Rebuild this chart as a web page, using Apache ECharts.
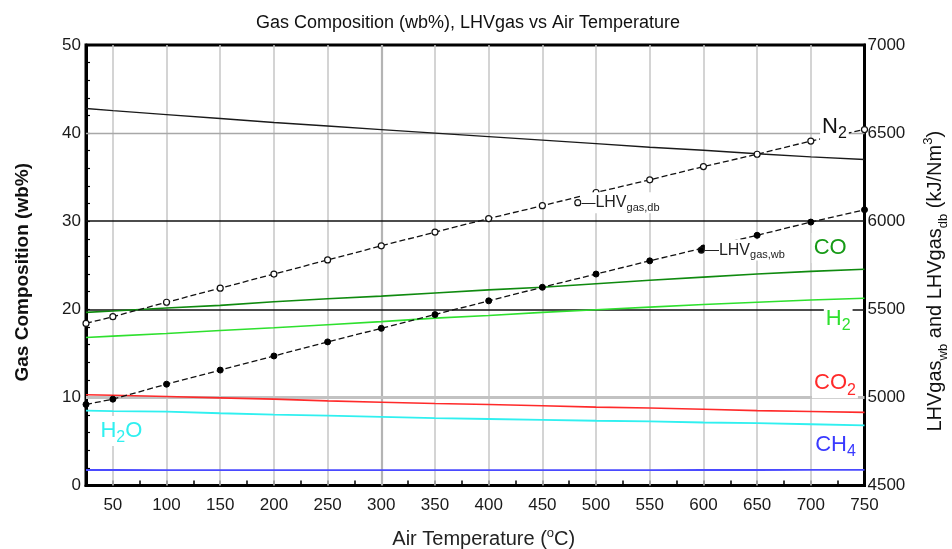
<!DOCTYPE html>
<html>
<head>
<meta charset="utf-8">
<script src="https://cdn.jsdelivr.net/npm/echarts@6/dist/echarts.min.js"></script>
<style>
  html, body { margin: 0; padding: 0; background: #fff; }
  #chart { width: 952px; height: 549px; }
</style>
</head>
<body>
<div id="chart"></div>
<script>
// Air temperature (°C) at which the gasifier was evaluated
const temps = [25, 50, 100, 150, 200, 250, 300, 350, 400, 450, 500, 550, 600, 650, 700, 750];

// Gas composition, wet basis (%)
const n2  = [42.8, 42.55, 42.1, 41.65, 41.2, 40.8, 40.4, 40.0, 39.6, 39.2, 38.8, 38.4, 38.05, 37.65, 37.3, 37.0];
const co  = [19.65, 19.8, 20.15, 20.45, 20.85, 21.2, 21.5, 21.85, 22.2, 22.5, 22.9, 23.3, 23.65, 24.0, 24.3, 24.55];
const h2  = [16.8, 16.95, 17.25, 17.6, 17.9, 18.25, 18.6, 19.0, 19.3, 19.65, 19.95, 20.25, 20.55, 20.8, 21.05, 21.25];
const co2 = [10.3, 10.25, 10.1, 9.95, 9.8, 9.6, 9.45, 9.3, 9.2, 9.05, 8.9, 8.8, 8.65, 8.5, 8.4, 8.3];
const h2o = [8.5, 8.45, 8.38, 8.2, 8.05, 7.92, 7.8, 7.65, 7.55, 7.45, 7.35, 7.28, 7.15, 7.07, 6.95, 6.82];
const ch4 = [1.76, 1.76, 1.75, 1.75, 1.75, 1.74, 1.74, 1.74, 1.74, 1.75, 1.75, 1.75, 1.76, 1.76, 1.77, 1.77];

// Lower heating value of the gas (kJ/Nm3), dry and wet basis
const lhvDb = [5420, 5458, 5540, 5620, 5700, 5780, 5860, 5938, 6015, 6088, 6163, 6235, 6310, 6380, 6455, 6520];
const lhvWb = [4960, 4990, 5075, 5155, 5235, 5315, 5392, 5470, 5548, 5625, 5700, 5775, 5848, 5920, 5995, 6065];

// Axis tick labels and reference lines
const xTickLabels = [50, 100, 150, 200, 250, 300, 350, 400, 450, 500, 550, 600, 650, 700, 750];
const xGridLines  = [50, 100, 150, 200, 250, 300, 350, 400, 450, 500, 550, 600, 650, 700];
const leftTicks   = [0, 10, 20, 30, 40, 50];
const rightTicks  = [4500, 5000, 5500, 6000, 6500, 7000];

// Where each curve name sits: [air temperature, axis value]
const nameSpots = {
  N2:  [722, 40.7],
  CO:  [718, 26.95],
  H2:  [725.5, 18.9],
  CO2: [722.5, 11.6],
  H2O: [58, 6.2],
  CH4: [723, 4.6]
};
const calloutDb = [483, 6105];
const calloutWb = [598, 5836];

const FONT = '"Liberation Sans", Arial, sans-serif';
const pairs = arr => temps.map((t, i) => [t, arr[i]]);

function curveName(spot, text, color) {
  return {
    silent: true,
    symbol: 'circle',
    symbolSize: 0.1,
    itemStyle: { color: 'rgba(0,0,0,0)' },
    label: {
      show: true,
      position: 'inside',
      formatter: text,
      color: color,
      fontFamily: FONT,
      fontSize: 22,
      lineHeight: 30,
      backgroundColor: '#fff',
      padding: [0, 2],
      rich: {
        s: { fontFamily: FONT, fontSize: 16, lineHeight: 16, verticalAlign: 'bottom', color: color }
      }
    },
    data: [{ coord: spot }]
  };
}

function callout(spot, sub, fill) {
  return {
    silent: true,
    symbol: 'circle',
    symbolSize: 6,
    itemStyle: { color: fill, borderColor: '#111', borderWidth: 1.2 },
    label: {
      show: true,
      position: 'right',
      distance: 0,
      formatter: '{d|—}{t|LHV}{s|' + sub + '}',
      backgroundColor: '#fff',
      padding: [0, 2, 0, 0],
      rich: {
        d: { fontFamily: FONT, fontSize: 14, lineHeight: 21, color: '#222' },
        t: { fontFamily: FONT, fontSize: 16, lineHeight: 21, color: '#222' },
        s: { fontFamily: FONT, fontSize: 11, lineHeight: 11, verticalAlign: 'bottom', color: '#222' }
      }
    },
    data: [{ coord: spot }]
  };
}

function composition(name, arr, color, width, label) {
  return {
    name: name,
    type: 'line',
    yAxisIndex: 0,
    data: pairs(arr),
    showSymbol: false,
    z: 2,
    lineStyle: { color: color, width: width },
    itemStyle: { color: color },
    emphasis: { disabled: true },
    markPoint: label
  };
}

const chart = echarts.init(document.getElementById('chart'), null, { renderer: 'canvas' });

chart.setOption({
  animation: false,
  backgroundColor: '#fff',
  textStyle: { fontFamily: FONT },
  graphic: [{
    type: 'text',
    x: 468,
    y: 23,
    style: {
      text: 'Gas Composition (wb%), LHVgas vs Air Temperature',
      font: '18px ' + FONT,
      fill: '#111',
      textAlign: 'center',
      textVerticalAlign: 'middle'
    }
  }],
  grid: {
    left: 86, right: 87.5, top: 45, bottom: 63.5,
    outerBoundsMode: 'none',
    containLabel: false,
    show: true, borderColor: '#000', borderWidth: 3, backgroundColor: 'rgba(0,0,0,0)'
  },
  xAxis: {
    type: 'value',
    min: 25, max: 750, interval: 25,
    name: 'Air Temperature ({p|o}C)',
    nameLocation: 'middle',
    nameGap: 41,
    nameTextStyle: {
      fontFamily: FONT, fontSize: 20, color: '#222', lineHeight: 26, padding: [0, 0, 0, 17],
      rich: { p: { fontFamily: FONT, fontSize: 13, lineHeight: 13, verticalAlign: 'top', color: '#222' } }
    },
    axisLine: { lineStyle: { color: '#000', width: 3 } },
    axisTick: { inside: true, length: 5, lineStyle: { color: '#000', width: 1.5 } },
    axisLabel: {
      formatter: v => (xTickLabels.indexOf(v) >= 0 ? String(v) : ''),
      fontFamily: FONT, fontSize: 17, color: '#1a1a1a', margin: 11
    },
    splitLine: { show: false }
  },
  yAxis: [{
    type: 'value',
    min: leftTicks[0], max: leftTicks[leftTicks.length - 1], interval: 10,
    name: 'Gas Composition (wb%)',
    nameLocation: 'middle',
    nameGap: 52,
    nameTextStyle: { fontFamily: FONT, fontSize: 19, fontWeight: 'bold', color: '#111', lineHeight: 22, padding: [0, 14, 0, 0] },
    axisLine: { show: true, lineStyle: { color: '#000', width: 3 } },
    axisTick: { show: true, inside: true, length: 4, lineStyle: { color: '#000', width: 1.2 } },
    minorTick: { show: true, splitNumber: 5, length: 4, lineStyle: { color: '#000', width: 1.2 } },
    axisLabel: { fontFamily: FONT, fontSize: 17, color: '#1a1a1a', margin: 5, formatter: v => String(v) },
    splitLine: { show: false }
  }, {
    type: 'value',
    position: 'right',
    min: rightTicks[0], max: rightTicks[rightTicks.length - 1], interval: 500,
    name: 'LHVgas{s|wb} and LHVgas{s|db} (kJ/Nm{p|3})',
    nameLocation: 'middle',
    nameGap: 57,
    nameTextStyle: {
      fontFamily: FONT, fontSize: 20, color: '#111', lineHeight: 28, padding: [0, 32, 0, 0],
      rich: {
        s: { fontFamily: FONT, fontSize: 13, lineHeight: 13, verticalAlign: 'bottom', color: '#111' },
        p: { fontFamily: FONT, fontSize: 13, lineHeight: 13, verticalAlign: 'top', color: '#111' }
      }
    },
    axisLine: { show: true, lineStyle: { color: '#000', width: 3 } },
    axisTick: { show: false },
    axisLabel: { fontFamily: FONT, fontSize: 17, color: '#1a1a1a', margin: 3, formatter: v => String(v) },
    splitLine: { show: false }
  }],
  series: [
    {
      // reference lines behind the curves
      name: 'grid',
      type: 'line',
      yAxisIndex: 0,
      data: [],
      silent: true,
      markLine: {
        silent: true,
        z: 1,
        symbol: ['none', 'none'],
        label: { show: false },
        emphasis: { disabled: true },
        data: [
          ...xGridLines.map(x => ({ xAxis: x, lineStyle: { color: x === 300 ? '#b4b4b4' : '#c6c6c6', width: x === 300 ? 2.2 : 1.5, type: 'solid' } })),
          { yAxis: 10, lineStyle: { color: '#c2c2c2', width: 3, type: 'solid' } },
          { yAxis: 20, lineStyle: { color: '#111', width: 1.5, type: 'solid' } },
          { yAxis: 30, lineStyle: { color: '#111', width: 1.5, type: 'solid' } },
          { yAxis: 40, lineStyle: { color: '#a8a8a8', width: 1.3, type: 'solid' } }
        ]
      }
    },
    composition('N2', n2, '#1a1a1a', 1.4, curveName(nameSpots.N2, 'N{s|2}', '#111')),
    composition('CO', co, '#0f8a0f', 1.6, curveName(nameSpots.CO, 'CO', '#179a17')),
    composition('H2', h2, '#2ee02e', 1.6, curveName(nameSpots.H2, 'H{s|2}', '#2ee02e')),
    composition('CO2', co2, '#ff2a2a', 1.6, curveName(nameSpots.CO2, 'CO{s|2}', '#ff2a2a')),
    composition('H2O', h2o, '#30f0f0', 1.8, curveName(nameSpots.H2O, 'H{s|2}O', '#30f0f0')),
    composition('CH4', ch4, '#4a4aff', 1.8, curveName(nameSpots.CH4, 'CH{s|4}', '#3a3aff')),
    {
      name: 'LHVgas,db',
      type: 'line',
      yAxisIndex: 1,
      data: pairs(lhvDb),
      symbol: 'circle',
      symbolSize: 6,
      showAllSymbol: true,
      z: 3,
      lineStyle: { color: '#111', width: 1.3, type: [6, 3] },
      itemStyle: { color: '#fff', borderColor: '#111', borderWidth: 1.2 },
      emphasis: { disabled: true },
      markPoint: callout(calloutDb, 'gas,db', '#fff')
    },
    {
      name: 'LHVgas,wb',
      type: 'line',
      yAxisIndex: 1,
      data: pairs(lhvWb),
      symbol: 'circle',
      symbolSize: 6,
      showAllSymbol: true,
      z: 3,
      lineStyle: { color: '#111', width: 1.3, type: [6, 3] },
      itemStyle: { color: '#000', borderColor: '#000', borderWidth: 1 },
      emphasis: { disabled: true },
      markPoint: callout(calloutWb, 'gas,wb', '#000')
    }
  ]
});
</script>
</body>
</html>
